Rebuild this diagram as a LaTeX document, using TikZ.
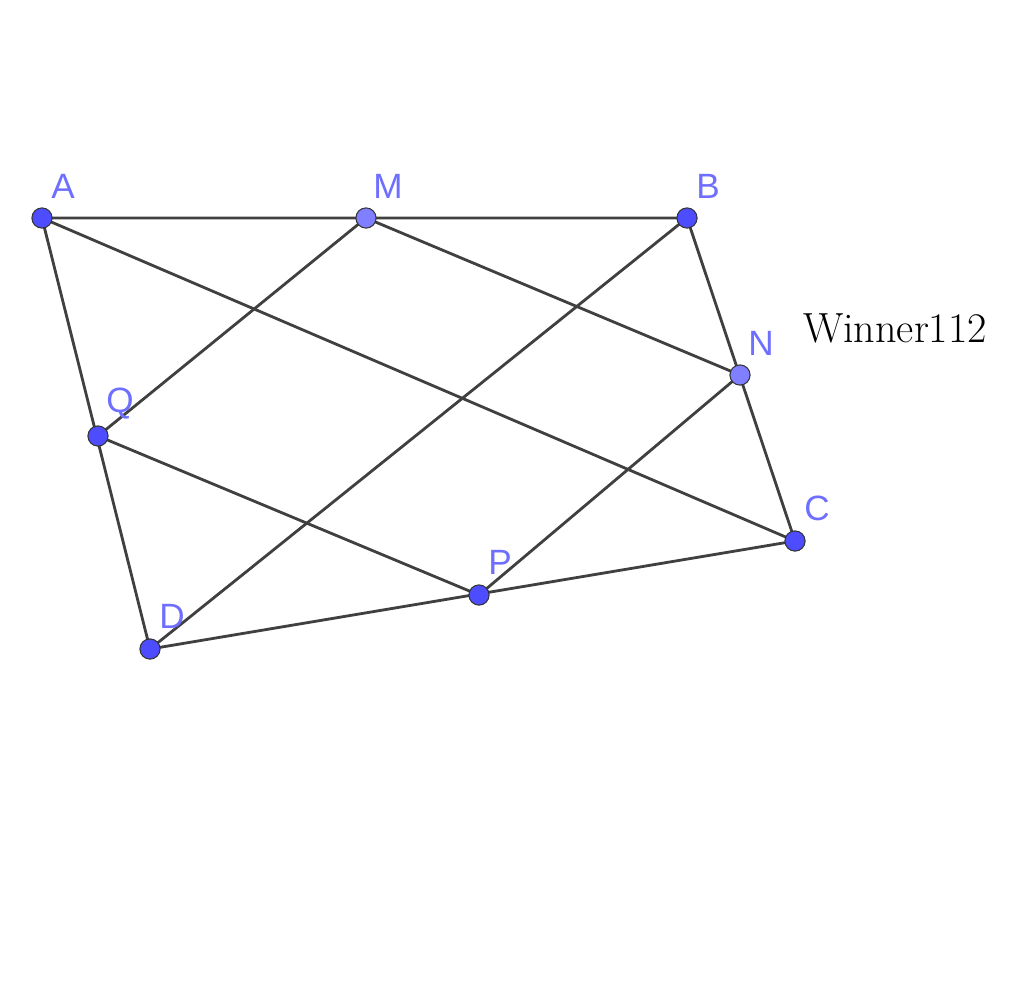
\documentclass[tikz,border=0pt]{standalone}
\usepackage{fontspec}
\newfontfamily\labelfont{Liberation Sans}
\definecolor{ptblue}{HTML}{4D4DFF}
\definecolor{ptlight}{HTML}{7F7FFF}
\definecolor{lblblue}{HTML}{6F6FFF}
\definecolor{seg}{HTML}{404040}
\tikzset{
  pt/.style={circle,draw=black!80,fill=ptblue,line width=0.6pt,inner sep=0pt,minimum size=11.5pt},
  ptl/.style={pt,fill=ptlight},
  lbl/.style={text=lblblue,font=\labelfont\fontsize{20}{24}\selectfont,inner sep=0pt},
  segment/.style={draw=seg,line width=1.6pt}
}
\begin{document}
\begin{tikzpicture}[x=0.02cm,y=-0.02cm]
\useasboundingbox (0,0) rectangle (1024,1002);

\coordinate (A) at (42,218);
\coordinate (M) at (366,218);
\coordinate (B) at (687,218);
\coordinate (N) at (740,375);
\coordinate (C) at (795,541);
\coordinate (P) at (479,595);
\coordinate (D) at (150,649);
\coordinate (Q) at (98,436);

% sides and inner lines
\draw[segment] (A) -- (B) -- (C) -- (D) -- cycle;
\draw[segment] (A) -- (C);
\draw[segment] (B) -- (D);
\draw[segment] (M) -- (Q) -- (P) -- (N) -- cycle;

% points
\foreach \p in {A,B,C,D,P,Q}
  \node[pt] (n\p) at (\p) {};
\foreach \p in {M,N}
  \node[ptl] (n\p) at (\p) {};

% labels
\node[lbl] (lA) at (63,186) {A};
\node[lbl] (lM) at (388,186) {M};
\node[lbl] (lB) at (708,186) {B};
\node[lbl] (lN) at (761,343) {N};
\node[lbl] (lC) at (817,508) {C};
\node[lbl] (lP) at (500,562) {P};
\node[lbl] (lD) at (172,616) {D};
\node[lbl] (lQ) at (120,404) {Q};

\node[font=\fontsize{24}{28}\selectfont,inner sep=0pt] (credit) at (895,328) {Winner112};
\end{tikzpicture}
\end{document}
